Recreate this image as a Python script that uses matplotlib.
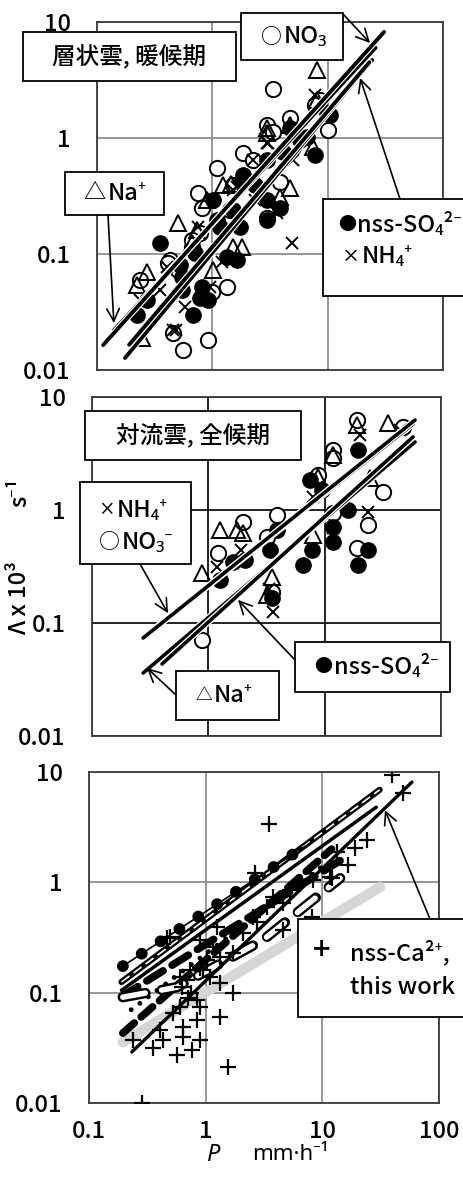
import matplotlib
matplotlib.use("Agg")
import matplotlib.pyplot as plt
import matplotlib.patheffects as pe
from matplotlib.patches import Rectangle

FONT = ['Noto Sans CJK JP', 'Noto Sans', 'DejaVu Sans']
plt.rcParams['font.family'] = FONT
plt.rcParams['font.weight'] = 'medium'
FS = 17

# ---- axis ticks ----
y_ticks = [0.01, 0.1, 1, 10]
y_tick_labels = ["0.01", "0.1", "1", "10"]
x_ticks = [0.1, 1, 10, 100]
x_tick_labels = ["0.1", "1", "10", "100"]

# ---- panel 1: stratiform clouds, warm season ----
no3_1_x = [3.36, 2.98, 4.72, 10.1, 8.6, 7.8, 1.85, 1.10, 2.25, 0.75, 0.81, 1.51, 2.98, 3.86,
           0.236, 0.43, 1.34, 0.557, 0.92, 0.456, 0.78, 0.667, 5.0, 3.36, 1.0, 0.667, 1.42,
           0.413, 0.505]
no3_1_y = [2.64, 1.29, 1.49, 1.17, 2.13, 1.92, 0.74, 0.55, 0.65, 0.336, 0.25, 0.39, 0.204, 0.42,
           0.060, 0.089, 0.052, 0.0149, 0.0182, 0.0208, 0.152, 0.115, 0.835, 1.13, 0.047, 0.132,
           0.239, 0.0835, 0.073]
so4_1_x = [7.78, 0.352, 0.68, 1.64, 3.86, 2.98, 1.85, 0.272, 0.222, 0.78, 10.5, 4.72, 2.98, 1.74,
           1.10, 0.81, 0.546, 0.71, 1.01, 2.34, 5.75, 4.1, 0.525, 2.98, 1.81, 1.51, 1.17, 6.6,
           9.9, 1.34, 0.546, 0.92]
so4_1_y = [0.713, 0.124, 0.0298, 0.089, 0.25, 0.196, 0.48, 0.040, 0.030, 0.042, 1.58, 1.22, 0.29,
           0.171, 0.196, 0.052, 0.063, 0.102, 0.29, 0.39, 0.96, 0.76, 0.080, 0.645, 0.434, 0.239,
           0.171, 1.02, 1.64, 0.094, 0.049, 0.040]
na_1_x = [8.1, 4.72, 0.505, 0.272, 0.222, 1.24, 2.98, 0.90, 1.01, 0.736, 4.72, 0.245, 3.86, 1.51,
          8.1, 7.47, 1.81, 2.98, 1.45, 0.667]
na_1_y = [3.85, 0.37, 0.185, 0.070, 0.054, 0.39, 1.10, 0.29, 0.073, 0.161, 1.29, 0.0189, 0.31,
          0.115, 2.13, 0.835, 0.115, 1.22, 0.40, 0.124]
nh4_1_x = [4.91, 3.64, 7.78, 0.456, 2.25, 3.04, 0.75, 1.51, 5.0, 0.404, 0.955, 0.58, 1.21, 2.34,
           0.352, 0.236, 2.98, 1.64, 0.48]
nh4_1_y = [0.124, 0.225, 2.35, 0.0221, 0.65, 0.906, 0.171, 0.356, 0.65, 0.077, 0.052, 0.035,
           0.085, 0.29, 0.049, 0.040, 0.906, 0.378, 0.022]
# regression lines (x range, y range)
fit_1 = {
    "no3": ([0.113, 30.8], [0.0164, 8.2]),
    "na": ([0.14, 26.0], [0.022, 6.0]),
    "so4": ([0.175, 24.3], [0.0127, 4.7]),
    "nh4": ([0.19, 23.0], [0.0165, 4.5]),
}

# ---- panel 2: convective clouds, all seasons ----
no3_2_x = [19.0, 47.2, 11.8, 11.8, 8.77, 31.8, 23.6, 19.0, 11.8, 3.90, 1.99, 1.21, 3.20, 3.53, 0.883]
no3_2_y = [6.25, 5.43, 3.40, 2.88, 2.04, 1.44, 0.736, 0.461, 0.94, 0.90, 0.78, 0.416, 0.577, 0.188, 0.0708]
so4_2_x = [19.4, 7.48, 15.9, 11.8, 11.8, 7.8, 6.52, 19.4, 23.6, 1.26, 1.63, 2.07, 3.40, 3.90, 9.5, 3.53]
so4_2_y = [3.40, 1.84, 1.0, 0.708, 0.521, 0.443, 0.326, 0.326, 0.443, 0.240, 0.347, 0.361, 0.443,
           0.665, 1.50, 0.166]
na_2_x = [19.0, 35.1, 11.7, 8.77, 24.6, 1.26, 1.99, 0.883, 3.53, 3.2, 7.94, 1.75]
na_2_y = [5.65, 5.89, 3.07, 1.96, 1.92, 0.665, 0.625, 0.277, 0.255, 0.177, 0.601, 0.66]
nh4_2_x = [23.6, 3.60, 1.9, 44.0, 7.94, 1.19, 20.0, 11.8, 3.3]
nh4_2_y = [0.96, 0.125, 0.443, 5.1, 1.30, 0.313, 4.61, 0.70, 0.2]
fit_2 = {
    "nh4": ([0.275, 59.8], [0.0737, 6.25]),
    "no3": ([0.31, 58.0], [0.082, 5.8]),
    "na": ([0.275, 59.8], [0.0361, 4.0]),
    "so4": ([0.40, 57.5], [0.0434, 4.43]),
}

# ---- panel 3: nss-Ca2+ (this work) with published relations ----
ca_x = [39.4, 49.1, 3.48, 24.1, 19.0, 13.3, 16.6, 11.6, 2.64, 6.43, 4.59, 3.35, 2.75, 2.09, 1.71,
        1.16, 0.893, 0.466, 1.33, 0.733, 0.692, 1.33, 1.71, 0.627, 0.84, 0.893, 0.603, 0.525, 0.84,
        1.33, 0.64, 0.406, 0.43, 0.64, 0.893, 0.353, 0.567, 0.764, 0.238, 1.55, 0.285, 0.494, 1.25,
        1.03, 0.60, 2.54, 3.78, 5.27, 8.3, 8.15, 4.59, 0.75, 0.70, 0.95, 1.1, 12.1, 0.893]
ca_y = [9.4, 6.45, 3.38, 2.42, 2.05, 1.88, 1.44, 1.12, 1.21, 0.986, 0.649, 0.597, 0.436, 0.347,
        0.229, 0.259, 0.30, 0.313, 0.210, 0.16, 0.130, 0.122, 0.099, 0.112, 0.0857, 0.074, 0.074,
        0.0653, 0.0565, 0.060, 0.0488, 0.0458, 0.0372, 0.0396, 0.0372, 0.0315, 0.0272, 0.0302,
        0.0372, 0.0211, 0.0100, 0.319, 0.394, 0.198, 0.138, 0.484, 0.736, 0.851, 1.05, 0.484, 0.37,
        0.10, 0.09, 0.16, 0.14, 1.09, 0.167]
ref_gray = ([0.195, 31.2], [0.0356, 0.906])
ref_this_work = ([0.233, 58.6], [0.029, 8.1])
ref_dots = ([0.195, 8.0], [0.174, 2.3])
ref_double = ([0.19, 31.0], [0.125, 6.9])
ref_solid = ([0.19, 29.0], [0.105, 4.8])
ref_dash_a = ([0.19, 16.0], [0.092, 1.7])
ref_dash_b = ([0.195, 12.0], [0.043, 2.0])
ref_small_dots = ([0.23, 10.0], [0.07, 1.4])
ref_capsule = ([0.195, 0.567, 3.1, 14.2], [0.091, 0.112, 0.30, 1.09])

W, H = 464, 1177
fig = plt.figure(figsize=(W / 100, H / 100), dpi=100)


def make_axes(left, top, right, bottom, grid_color, show_x):
    ax = fig.add_axes([left / W, 1 - bottom / H, (right - left) / W, (bottom - top) / H])
    ax.set_xscale('log')
    ax.set_yscale('log')
    ax.set_xlim(0.1, 100)
    ax.set_ylim(0.01, 10)
    ax.set_yticks(y_ticks)
    ax.set_yticklabels(y_tick_labels, fontsize=FS)
    ax.set_xticks(x_ticks)
    if show_x:
        ax.set_xticklabels(x_tick_labels, fontsize=FS)
    else:
        ax.set_xticklabels([])
    ax.minorticks_off()
    ax.tick_params(length=0, pad=19)
    ax.tick_params(axis='x', pad=12)
    ax.grid(True, which='major', color=grid_color, lw=1.3)
    ax.set_axisbelow(True)
    for s in ax.spines.values():
        s.set_color('#3a3a3a')
        s.set_linewidth(1.3)
    return ax


ax1 = make_axes(97, 22, 443, 370, '#8f8f8f', False)
ax2 = make_axes(92, 397, 441, 736, '#111111', False)
ax3 = make_axes(89, 772, 439, 1103, '#8f8f8f', True)

MS = 11
open_c = dict(ls='none', marker='o', ms=MS, mfc='white', mec='black', mew=1.4, zorder=3)
fill_c = dict(ls='none', marker='o', ms=MS, mfc='black', mec='black', mew=1.0, zorder=3)
tri = dict(ls='none', marker='^', ms=MS, mfc='none', mec='black', mew=1.4, zorder=3)
cross = dict(ls='none', marker='x', ms=9, mec='black', mew=1.4, zorder=3)
fit_fx = [pe.Stroke(linewidth=4.5, foreground='white'), pe.Normal()]

# panel 1
ax1.plot(no3_1_x, no3_1_y, **open_c)
ax1.plot(na_1_x, na_1_y, **tri)
ax1.plot(so4_1_x, so4_1_y, **fill_c)
ax1.plot(nh4_1_x, nh4_1_y, **cross)
for key in ["so4", "nh4", "na", "no3"]:
    xs, ys = fit_1[key]
    ax1.plot(xs, ys, color='black', lw=2.8, solid_capstyle='round', zorder=4, path_effects=fit_fx)

# panel 2
ax2.plot(no3_2_x, no3_2_y, **open_c)
ax2.plot(na_2_x, na_2_y, **tri)
ax2.plot(so4_2_x, so4_2_y, **fill_c)
ax2.plot(nh4_2_x, nh4_2_y, **cross)
for key in ["na", "so4", "no3", "nh4"]:
    xs, ys = fit_2[key]
    ax2.plot(xs, ys, color='black', lw=2.6, solid_capstyle='round', zorder=4, path_effects=fit_fx)

# panel 3
ax3.plot(*ref_gray, color='#d6d6d6', lw=7.5, solid_capstyle='round', zorder=2)
ax3.plot(*ref_double, color='black', lw=4.5, solid_capstyle='round', zorder=4)
ax3.plot(*ref_double, color='white', lw=1.2, ls=(0, (6, 3)), zorder=4)
ax3.plot(*ref_solid, color='black', lw=2.5, solid_capstyle='round', zorder=4)
ax3.plot(*ref_dots, color='black', lw=1.2, zorder=4)
ax3.plot(*ref_dots, color='black', lw=8.5, ls=(0, (0.01, 1.9)), dash_capstyle='round', zorder=4)
ax3.plot(*ref_dash_a, color='black', lw=5.5, ls=(0, (2.5, 1.4)), dash_capstyle='round', zorder=4)
ax3.plot(*ref_dash_b, color='black', lw=5.5, ls=(0, (2.0, 1.2)), dash_capstyle='round', zorder=4)
ax3.plot(*ref_small_dots, color='black', lw=3.5, ls=(0, (0.01, 2.2)), dash_capstyle='round', zorder=4)
ax3.plot(*ref_capsule, color='black', lw=7.5, ls=(0, (2.2, 1.6)), dash_capstyle='round', zorder=4)
ax3.plot(*ref_capsule, color='white', lw=4.0, ls=(0, (4.1, 3.0)), dash_capstyle='round', zorder=4)
ax3.plot(*ref_this_work, color='black', lw=2.4, solid_capstyle='round', zorder=5)
ax3.plot(ca_x, ca_y, ls='none', marker='+', ms=11, mec='black', mew=1.6, zorder=6)

# overlay in pixel units for labels, boxes and leader arrows
ov = fig.add_axes([0, 0, 1, 1], zorder=10)
ov.set_xlim(0, W)
ov.set_ylim(H, 0)
ov.axis('off')
ov.patch.set_visible(False)

LATIN = ['Noto Sans CJK JP', 'Noto Sans', 'DejaVu Sans']


def box(x0, y0, x1, y1):
    ov.add_patch(Rectangle((x0, y0), x1 - x0, y1 - y0, fc='white', ec='black', lw=1.3,
                           clip_on=False))


def label(x, y, s, ha='center', size=FS):
    ov.text(x, y, s, ha=ha, va='center', fontsize=size, family=LATIN)


def keyed(x, y, sym, sym_size, s, gap=2):
    # marker glyph ending at x, label text starting just after it
    ov.text(x, y, sym, ha='right', va='center', fontsize=sym_size, family=LATIN)
    ov.text(x + gap, y, s, ha='left', va='center', fontsize=FS, family=LATIN)


def arrow(ax, xd, yd, px, py):
    ov.annotate('', xy=(xd, yd), xycoords=ax.transData, xytext=(px, py), textcoords=ov.transData,
                arrowprops=dict(arrowstyle='->,head_length=0.9,head_width=0.45', lw=1.2,
                                color='black', shrinkA=0, shrinkB=0))


# panel 1 annotations
arrow(ax1, 23.3, 6.59, 343, 14)
arrow(ax1, 0.140, 0.0254, 108, 215)
arrow(ax1, 19.1, 3.29, 400, 199)
box(23, 32, 236, 81)
label(129, 57, "層状雲, 暖候期")
box(241, 13, 343, 60)
keyed(282, 37, "○", 15, "NO₃")
box(65, 172, 164, 215)
keyed(106, 193, "△", 16, "Na⁺")
box(323, 199, 470, 296)
keyed(356, 225, "●", 13, "nss-SO₄²⁻", gap=1)
keyed(360, 257, "×", 13, "NH₄⁺")

# panel 2 annotations
arrow(ax2, 0.45, 0.122, 140, 564)
arrow(ax2, 0.297, 0.040, 176, 695)
arrow(ax2, 1.80, 0.16, 295, 660)
box(85, 411, 301, 460)
label(193, 436, "対流雲, 全候期")
box(80, 482, 191, 564)
keyed(115, 510, "×", 12, "NH₄⁺")
keyed(120, 542, "○", 15, "NO₃⁻")
box(176, 671, 279, 720)
keyed(212, 695, "△", 12, "Na⁺")
box(295, 642, 450, 692)
keyed(332, 667, "●", 13, "nss-SO₄²⁻")

# panel 3 annotations
arrow(ax3, 34.4, 4.52, 430, 919)
box(298, 919, 470, 1017)
label(322, 951, "+", size=22)
label(350, 953, "nss-Ca²⁺,", ha='left')
label(350, 988, "this work", ha='left')

# axis titles
fig.text(20 / W, 1 - 598 / H, "Λ x 10³", rotation=90, ha='center', va='center', fontsize=FS)
fig.text(20 / W, 1 - 492 / H, "s⁻¹", rotation=90, ha='center', va='center', fontsize=FS)
fig.text(213 / W, 1 - 1155 / H, "P", ha='center', va='center', fontsize=FS,
         family=['Noto Sans', 'DejaVu Sans'], style='italic')
fig.text(290 / W, 1 - 1155 / H, "mm·h⁻¹", ha='center', va='center', fontsize=FS - 1,
         family=['Noto Sans', 'DejaVu Sans'])

fig.savefig("out.png", dpi=100)
